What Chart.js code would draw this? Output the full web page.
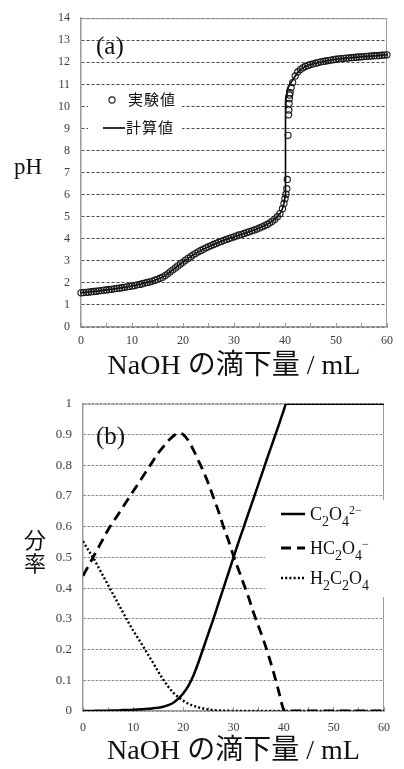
<!DOCTYPE html>
<html>
<head>
<meta charset="utf-8">
<script src="https://cdn.jsdelivr.net/npm/chart.js@4.4.1/dist/chart.umd.min.js"></script>
<style>
  body { margin: 0; background: #fff; }
  .box { position: absolute; left: 0; width: 404px; }
</style>
</head>
<body>
<div class="box" style="top:0;height:385px"><canvas id="phChart" width="404" height="385"></canvas></div>
<div class="box" style="top:385px;height:384px"><canvas id="fracChart" width="404" height="384"></canvas></div>
<script>
// (a) titration curve
const expX = [0,0.5,1,1.5,2,2.5,3,3.5,4,4.5,5,5.5,6,6.5,7,7.5,8,8.5,9,9.5,
  10,10.5,11,11.5,12,12.5,13,13.5,14,14.5,15,15.5,16,16.5,17,17.5,18,18.5,19,19.5,
  20,20.5,21,21.5,22,22.5,23,23.5,24,24.5,25,25.5,26,26.5,27,27.5,28,28.5,29,29.5,
  30,30.5,31,31.5,32,32.5,33,33.5,34,34.5,35,35.5,36,36.5,37,37.5,38,38.5,39,39.5,
  39.8,40.0,40.2,40.35,40.45,40.6,40.7,40.75,40.8,40.85,40.9,41.0,41.2,
  41.5,42,42.5,43,43.5,44,44.5,45,45.5,46,46.5,47,47.5,48,48.5,49,49.5,50,50.5,51,
  51.5,52,52.5,53,53.5,54,54.5,55,55.5,56,56.5,57,57.5,58,58.5,59,59.5,60];
const expPH = [1.55,1.56,1.57,1.58,1.60,1.61,1.62,1.64,1.65,1.67,
  1.68,1.70,1.71,1.73,1.75,1.76,1.78,1.80,1.82,1.84,
  1.86,1.88,1.91,1.93,1.96,1.99,2.02,2.05,2.08,2.12,
  2.16,2.21,2.26,2.33,2.41,2.50,2.59,2.68,2.77,2.86,
  2.94,3.03,3.11,3.19,3.27,3.34,3.41,3.47,3.53,3.59,
  3.64,3.69,3.74,3.79,3.84,3.88,3.93,3.97,4.01,4.05,
  4.09,4.13,4.17,4.20,4.24,4.28,4.32,4.36,4.40,4.44,
  4.49,4.54,4.59,4.65,4.72,4.80,4.89,5.00,5.14,5.36,
  5.60,5.82,6.02,6.27,6.69,8.69,9.62,9.84,10.14,10.35,10.52,10.62,10.85,
  11.08,11.38,11.56,11.67,11.75,11.81,11.86,11.90,11.93,11.96,
  11.99,12.02,12.04,12.06,12.08,12.10,12.12,12.14,12.16,12.17,
  12.18,12.19,12.20,12.21,12.22,12.23,12.24,12.25,12.26,12.27,
  12.28,12.29,12.30,12.30,12.31,12.32,12.33,12.34];
const calcX = [0,2,4,6,8,10,12,14,16,17,18,19,20,21,22,24,26,28,30,32,
  34,36,37,38,38.5,39,39.5,39.8,40.0,40.05,40.08,40.1,40.12,40.15,40.2,40.35,40.6,41,41.5,42,
  43,44,45,46,48,50,52,54,56,58,60];
const calcPH = [1.55,1.60,1.65,1.71,1.78,1.86,1.96,2.08,2.26,2.41,2.59,2.77,2.94,3.11,3.27,3.53,3.74,3.93,4.09,4.24,
  4.40,4.59,4.72,4.89,5.00,5.14,5.36,5.60,5.90,6.60,7.60,8.60,9.60,10.20,10.50,10.70,10.85,11.00,11.20,11.38,
  11.67,11.81,11.90,11.96,12.06,12.14,12.19,12.23,12.27,12.30,12.34];

// (b) species fractions
const fracX = [0,1,2,3,4,5,6,7,8,9,10,11,12,13,14,15,16,17,18,19,20,21,22,23,24,25,26,27,28,29,
  30,31,32,33,34,35,36,37,38,39,40,40.5,41,42,43,44,45,46,47,48,49,50,51,52,53,54,55,56,57,58,59,60];
const fracC2O4 = [0,0,0,0.001,0.001,0.001,0.002,0.002,0.003,0.003,
  0.004,0.005,0.006,0.007,0.009,0.011,0.014,0.019,0.027,0.04,
  0.058,0.082,0.115,0.158,0.205,0.253,0.30,0.35,0.40,0.45,
  0.50,0.55,0.597,0.645,0.692,0.74,0.788,0.836,0.883,0.93,
  0.978,1,1,1,1,1,1,1,1,1,1,1,1,1,1,1,1,1,1,1,1,1];
const fracHC2O4 = [0.44,0.47,0.50,0.53,0.56,0.59,0.615,0.64,0.665,0.69,
  0.715,0.74,0.765,0.79,0.815,0.84,0.86,0.88,0.895,0.905,
  0.90,0.88,0.85,0.815,0.78,0.74,0.695,0.65,0.60,0.555,
  0.505,0.46,0.415,0.37,0.32,0.275,0.23,0.18,0.125,0.065,
  0.005,0,0,0,0,0,0,0,0,0,0,0,0,0,0,0,0,0,0,0,0,0];
const fracH2C2O4 = [0.553,0.525,0.50,0.47,0.44,0.41,0.38,0.35,0.32,0.29,
  0.262,0.236,0.21,0.183,0.156,0.128,0.102,0.079,0.06,0.045,
  0.033,0.024,0.017,0.012,0.008,0.005,0.003,0.002,0.001,0.001,
  0,0,0,0,0,0,0,0,0,0,0,0,0,0,0,0,0,0,0,0,0,0,0,0,0,0,0,0,0,0,0,0];

const namesA = ['実験値', '計算値'];
const namesB = ['C₂O₄²⁻', 'HC₂O₄⁻', 'H₂C₂O₄'];
const xTitle = 'NaOH の滴下量 / mL';

const SERIF = "'Liberation Serif', 'Noto Sans CJK JP', serif";
const GOTHIC = "'Noto Sans CJK JP', sans-serif";
const TICK = '#3b3b4f';

function pts(xs, ys) {
  return xs.map((x, i) => ({ x: x, y: ys[i] }));
}

function drawSample(ctx, ds, x0, x1, y) {
  ctx.save();
  ctx.strokeStyle = ds.borderColor;
  ctx.lineWidth = ds.borderWidth;
  ctx.beginPath();
  if (ds.showLine === false) {
    ctx.arc((x0 + x1) / 2, y, ds.pointRadius, 0, Math.PI * 2);
  } else {
    ctx.setLineDash(ds.borderDash || []);
    ctx.moveTo(x0, y);
    ctx.lineTo(x1, y);
  }
  ctx.stroke();
  ctx.restore();
}

// draws a label, turning ₂ ² ⁻ into real sub/superscript text
function drawLabel(ctx, text, x, y, f) {
  const subs = '₀₁₂₃₄₅₆₇₈₉', sups = '⁰¹²³⁴⁵⁶⁷⁸⁹';
  ctx.textAlign = 'left';
  ctx.textBaseline = 'alphabetic';
  ctx.fillStyle = '#111';
  const base = y + f.size * 0.36;
  for (const ch of text) {
    let c = ch, size = f.size, dy = 0;
    if (subs.includes(ch)) { c = String(subs.indexOf(ch)); size = f.sub; dy = f.subDy; }
    else if (sups.includes(ch)) { c = String(sups.indexOf(ch)); size = f.sup; dy = f.supDy; }
    else if (ch === '⁻') { c = '−'; size = f.sup; dy = f.supDy; }
    ctx.font = size + 'px ' + f.family;
    ctx.fillText(c, x, base + dy);
    x += ctx.measureText(c).width + (f.spacing || 0);
  }
}

const decor = {
  id: 'decor',
  beforeDatasetsDraw(chart, args, o) {
    const ctx = chart.ctx, a = chart.chartArea;
    ctx.save();
    // top and right frame
    ctx.strokeStyle = '#9a9a9a';
    ctx.lineWidth = 1;
    ctx.beginPath();
    ctx.moveTo(a.left, a.top + 0.5);
    ctx.lineTo(a.right - 0.5, a.top + 0.5);
    ctx.lineTo(a.right - 0.5, a.bottom);
    ctx.stroke();

    // legend
    ctx.fillStyle = '#fff';
    ctx.fillRect(o.box.x, o.box.y, o.box.w, o.box.h);
    o.rows.forEach((r, i) => {
      const ds = chart.data.datasets[i];
      drawSample(ctx, ds, r.x0, r.x1, r.y);
      drawLabel(ctx, ds.label, r.tx, r.y, o.legendFont);
    });

    // panel tag
    ctx.fillStyle = '#111';
    ctx.font = '25px ' + SERIF;
    ctx.textAlign = 'left';
    ctx.textBaseline = 'middle';
    ctx.fillText(o.tag.text, o.tag.x, o.tag.y);

    // y title, horizontal or stacked
    const t = o.yTitle;
    ctx.font = t.font;
    ctx.textAlign = 'center';
    ctx.textBaseline = 'middle';
    if (t.stacked) {
      Array.from(t.text).forEach((c, i) => ctx.fillText(c, t.x, t.y + i * t.step));
    } else {
      ctx.fillText(t.text, t.x, t.y);
    }
    ctx.restore();
  }
};

function xScale(pad, titlePad) {
  return {
    type: 'linear', min: 0, max: 60,
    afterFit(s) { s.height = 58; },
    ticks: {
      stepSize: 5, autoSkip: false, maxRotation: 0, padding: pad, color: TICK,
      font: { family: SERIF, size: 12 },
      callback: v => (v % 10 === 0 ? v : '')
    },
    grid: { drawOnChartArea: false, drawTicks: true, tickLength: -4, color: '#9a9a9a' },
    border: { color: '#9a9a9a', width: 1.5 },
    title: {
      display: true, text: xTitle, color: '#111',
      font: { family: SERIF, size: 28, lineHeight: 1 },
      padding: { top: 0, bottom: titlePad }
    }
  };
}

new Chart(document.getElementById('phChart'), {
  type: 'scatter',
  data: {
    datasets: [
      {
        label: namesA[0], data: pts(expX, expPH), showLine: false,
        pointStyle: 'circle', pointRadius: 3.1, borderWidth: 1.1,
        borderColor: '#1a1a1a', backgroundColor: 'rgba(0,0,0,0)', clip: false
      },
      {
        label: namesA[1], data: pts(calcX, calcPH), showLine: true,
        borderColor: '#000', borderWidth: 1.6, pointRadius: 0, tension: 0
      }
    ]
  },
  options: {
    responsive: false, animation: false,
    layout: { padding: { top: 12, right: 5, left: 0, bottom: 0 } },
    plugins: {
      legend: { display: false },
      tooltip: { enabled: false },
      decor: {
        box: { x: 88, y: 86, w: 94, h: 55 },
        rows: [
          { x0: 108, x1: 116, tx: 128, y: 100 },
          { x0: 103, x1: 125, tx: 126, y: 128 }
        ],
        legendFont: { family: GOTHIC, size: 15, spacing: 1 },
        tag: { text: '(a)', x: 96, y: 47 },
        yTitle: { text: 'pH', x: 28, y: 168, font: '23px ' + SERIF }
      }
    },
    scales: {
      x: xScale(11, 4),
      y: {
        min: 0, max: 14,
        afterFit(s) { s.width = 81; },
        ticks: { stepSize: 1, padding: 11, color: TICK, font: { family: SERIF, size: 12 } },
        grid: { color: '#4a4a4a', lineWidth: 1, drawTicks: false },
        border: { color: '#9a9a9a', width: 1.5, dash: [3, 2] }
      }
    }
  },
  plugins: [decor]
});

new Chart(document.getElementById('fracChart'), {
  type: 'scatter',
  data: {
    datasets: [
      {
        label: namesB[0], data: pts(fracX, fracC2O4), showLine: true,
        borderColor: '#000', borderWidth: 2.5, pointRadius: 0, cubicInterpolationMode: 'monotone'
      },
      {
        label: namesB[1], data: pts(fracX, fracHC2O4), showLine: true,
        borderColor: '#000', borderWidth: 2.8, borderDash: [10, 6], pointRadius: 0, cubicInterpolationMode: 'monotone'
      },
      {
        label: namesB[2], data: pts(fracX, fracH2C2O4), showLine: true,
        borderColor: '#000', borderWidth: 2.4, borderDash: [2, 2.2], pointRadius: 0, cubicInterpolationMode: 'monotone'
      }
    ]
  },
  options: {
    responsive: false, animation: false,
    layout: { padding: { top: 6, right: 4, left: 0, bottom: 0 } },
    plugins: {
      legend: { display: false },
      tooltip: { enabled: false },
      decor: {
        box: { x: 265, y: 115, w: 120, h: 97 },
        rows: [
          { x0: 281, x1: 305, tx: 310, y: 129 },
          { x0: 281, x1: 305, tx: 310, y: 163 },
          { x0: 281, x1: 305, tx: 310, y: 193 }
        ],
        legendFont: { family: SERIF, size: 18, sub: 14, subDy: 6, sup: 12, supDy: -6 },
        tag: { text: '(b)', x: 96, y: 52 },
        yTitle: { text: '分率', x: 35, y: 155, step: 23, stacked: true, font: '22px ' + GOTHIC }
      }
    },
    scales: {
      x: xScale(14, 3),
      y: {
        min: 0, max: 1,
        afterFit(s) { s.width = 83; },
        ticks: {
          stepSize: 0.1, padding: 11, color: TICK, font: { family: SERIF, size: 13 },
          callback: v => String(+v.toFixed(1))
        },
        grid: { color: '#6a6a6a', lineWidth: 0.8, drawTicks: false },
        border: { color: '#9a9a9a', width: 1.5, dash: [2.5, 1.5] }
      }
    }
  },
  plugins: [decor]
});
</script>
</body>
</html>
